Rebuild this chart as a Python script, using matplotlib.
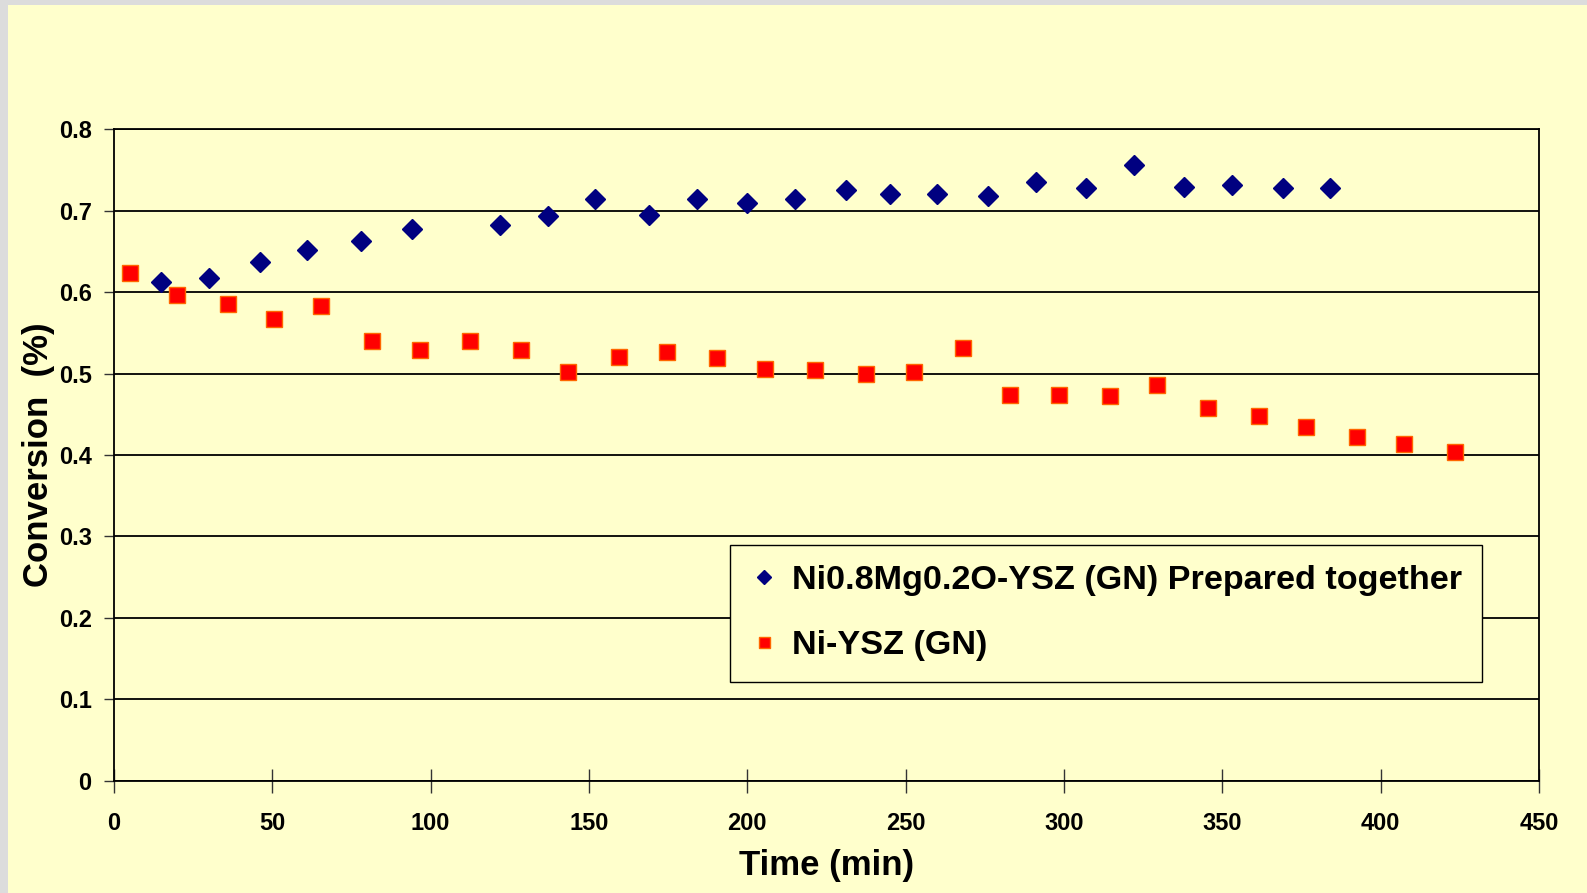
import matplotlib
matplotlib.use('Agg')
import matplotlib.pyplot as plt
from matplotlib.patches import Rectangle

# Ni0.8Mg0.2O-YSZ (GN) Prepared together
t_mg = [15, 30, 46, 61, 78, 94, 122, 137, 152, 169, 184, 200, 215, 231, 245,
        260, 276, 291, 307, 322, 338, 353, 369, 384]
conv_mg = [0.613, 0.617, 0.637, 0.652, 0.663, 0.677, 0.683, 0.694, 0.715, 0.695,
           0.715, 0.709, 0.714, 0.725, 0.720, 0.720, 0.718, 0.735, 0.728, 0.756,
           0.729, 0.731, 0.728, 0.728]

# Ni-YSZ (GN)
t_ni = [5, 20, 36, 50.5, 65.5, 81.5, 96.5, 112.5, 128.5, 143.5, 159.5, 174.5,
        190.5, 205.5, 221.5, 237.5, 252.5, 268, 283, 298.5, 314.5, 329.5, 345.5,
        361.5, 376.5, 392.5, 407.5, 423.5]
conv_ni = [0.623, 0.596, 0.586, 0.567, 0.583, 0.540, 0.529, 0.540, 0.529, 0.502,
           0.520, 0.526, 0.519, 0.506, 0.505, 0.500, 0.502, 0.532, 0.474, 0.474,
           0.473, 0.486, 0.458, 0.448, 0.434, 0.422, 0.414, 0.404]

label_mg = 'Ni0.8Mg0.2O-YSZ (GN) Prepared together'
label_ni = 'Ni-YSZ (GN)'

yellow = '#FFFFCC'
plt.rcParams['font.family'] = ['Liberation Sans', 'DejaVu Sans']
plt.rcParams['font.weight'] = 'bold'

fig = plt.figure(figsize=(15.87, 8.93), dpi=100, facecolor='#DCDCDC')
fig.patches.append(Rectangle((8 / 1587, 0), 1, 1 - 5 / 893, transform=fig.transFigure,
                             facecolor=yellow, edgecolor='none', zorder=-1))

ax = fig.add_axes([0.0718, 0.1257, 0.8980, 0.7295])
ax.set_facecolor(yellow)

ax.plot(t_mg, conv_mg, linestyle='none', marker='D', markersize=10,
        color='#000080', markeredgecolor='#000080', label=label_mg, zorder=3)
ax.plot(t_ni, conv_ni, linestyle='none', marker='s', markersize=11,
        color='#FF0000', markeredgecolor='#FF6600', markeredgewidth=1,
        label=label_ni, zorder=3)

ax.set_xlim(0, 450)
ax.set_ylim(0, 0.8)
ax.set_xticks(range(0, 451, 50))
ax.set_yticks([0, 0.1, 0.2, 0.3, 0.4, 0.5, 0.6, 0.7, 0.8])
ax.set_yticklabels(['0', '0.1', '0.2', '0.3', '0.4', '0.5', '0.6', '0.7', '0.8'])
ax.yaxis.grid(True, color='black', linewidth=1.3)
ax.set_axisbelow(True)
for s in ax.spines.values():
    s.set_linewidth(1.3)

ax.tick_params(axis='x', direction='inout', length=17, width=1, color='#333333',
               labelsize=17, pad=14)
ax.tick_params(axis='y', direction='out', length=7, width=1, color='#333333',
               labelsize=17, pad=9)

ax.set_xlabel('Time (min)', fontsize=25, fontweight='bold', labelpad=10)
ax.set_ylabel('Conversion  (%)', fontsize=25, fontweight='bold', labelpad=3)

leg = ax.legend(loc='upper left', bbox_to_anchor=(0.4323, 0.3626), borderaxespad=0,
                fontsize=24.6, frameon=True, fancybox=False, edgecolor='black',
                facecolor=yellow, framealpha=1, handlelength=0.8, handletextpad=0.4,
                labelspacing=1.0, borderpad=0.6, markerscale=0.72)
leg.get_frame().set_linewidth(1)

fig.savefig('out.png', dpi=100, facecolor=fig.get_facecolor())
